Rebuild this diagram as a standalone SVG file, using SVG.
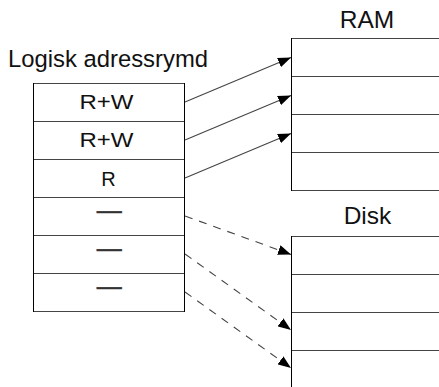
<svg xmlns="http://www.w3.org/2000/svg" width="439" height="387" viewBox="0 0 439 387">
  <style>
    .title { font-family: "Liberation Sans", Arial, sans-serif; font-size: 24.5px; fill: #111; }
    .cell { font-family: "Liberation Sans", Arial, sans-serif; font-size: 20px; fill: #111; text-anchor: middle; }
    .dash { font-family: "Liberation Sans", Arial, sans-serif; font-size: 25px; fill: #333; stroke: #333; stroke-width: 0.5; text-anchor: middle; }
    .hline { stroke: #444; stroke-width: 1; fill: none; }
    .vline { stroke: #000; stroke-width: 1; fill: none; }
    .map { stroke: #444; stroke-width: 1.1; fill: none; }
    .swap { stroke: #444; stroke-width: 1.1; fill: none; stroke-dasharray: 8 7; }
  </style>
  <defs>
    <marker id="tip" viewBox="0 0 13 10" refX="13" refY="5" markerWidth="13" markerHeight="10" markerUnits="userSpaceOnUse" orient="auto">
      <path d="M0,0 L13,5 L0,10 Z" fill="#000"/>
    </marker>
  </defs>

  <rect width="439" height="387" fill="#fff"/>

  <!-- logical address space: six pages -->
  <g id="logical">
    <text class="title" x="8" y="66.7" textLength="200" lengthAdjust="spacingAndGlyphs">Logisk adressrymd</text>
    <line class="hline" x1="33" y1="83.5" x2="185" y2="83.5"/>
    <line class="hline" x1="33" y1="121.5" x2="185" y2="121.5"/>
    <line class="hline" x1="33" y1="159.5" x2="185" y2="159.5"/>
    <line class="hline" x1="33" y1="197.5" x2="185" y2="197.5"/>
    <line class="hline" x1="33" y1="235.5" x2="185" y2="235.5"/>
    <line class="hline" x1="33" y1="273.5" x2="185" y2="273.5"/>
    <line class="hline" x1="33" y1="311.5" x2="185" y2="311.5"/>
    <line class="vline" x1="33.5" y1="83" x2="33.5" y2="312"/>
    <line class="vline" x1="184.5" y1="83" x2="184.5" y2="312"/>
    <text class="cell" x="106.5" y="109" textLength="54" lengthAdjust="spacingAndGlyphs">R+W</text>
    <text class="cell" x="106.5" y="147" textLength="54" lengthAdjust="spacingAndGlyphs">R+W</text>
    <text class="cell" x="108.5" y="186">R</text>
    <text class="dash" x="109.2" y="219.2">—</text>
    <text class="dash" x="109.2" y="257.2">—</text>
    <text class="dash" x="109.2" y="295.2">—</text>
  </g>

  <!-- physical memory frames -->
  <g id="ram">
    <text class="title" x="367" y="27.7" text-anchor="middle">RAM</text>
    <line class="hline" x1="291.5" y1="38.5" x2="439" y2="38.5"/>
    <line class="hline" x1="291.5" y1="76.5" x2="439" y2="76.5"/>
    <line class="hline" x1="291.5" y1="114.5" x2="439" y2="114.5"/>
    <line class="hline" x1="291.5" y1="152.5" x2="439" y2="152.5"/>
    <line class="hline" x1="291.5" y1="190.5" x2="439" y2="190.5"/>
    <line class="vline" x1="291.5" y1="38" x2="291.5" y2="191"/>
  </g>

  <!-- swap blocks on disk -->
  <g id="disk">
    <text class="title" x="367.5" y="224.3" text-anchor="middle">Disk</text>
    <line class="hline" x1="291.5" y1="236.5" x2="439" y2="236.5"/>
    <line class="hline" x1="291.5" y1="274.5" x2="439" y2="274.5"/>
    <line class="hline" x1="291.5" y1="312.5" x2="439" y2="312.5"/>
    <line class="hline" x1="291.5" y1="350.5" x2="439" y2="350.5"/>
    <line class="vline" x1="291.5" y1="236" x2="291.5" y2="387"/>
  </g>

  <!-- page mappings -->
  <g id="connectors">
    <line class="map" x1="185" y1="102" x2="291" y2="57.5" marker-end="url(#tip)"/>
    <line class="map" x1="185" y1="140" x2="291" y2="95.5" marker-end="url(#tip)"/>
    <line class="map" x1="185" y1="178" x2="291" y2="133.5" marker-end="url(#tip)"/>
    <line class="swap" x1="185" y1="216" x2="291" y2="254.5" marker-end="url(#tip)"/>
    <line class="swap" x1="185" y1="254" x2="291" y2="330" marker-end="url(#tip)"/>
    <line class="swap" x1="185" y1="292" x2="291" y2="368" marker-end="url(#tip)"/>
  </g>
</svg>
